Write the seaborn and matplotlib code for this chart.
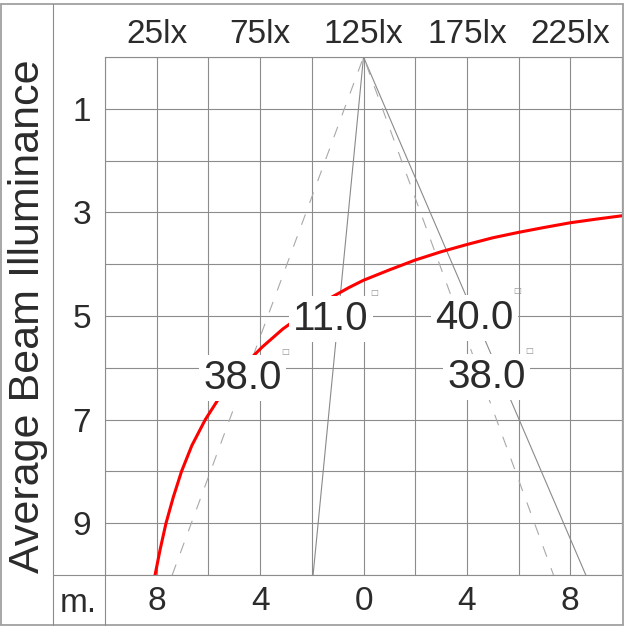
import matplotlib
matplotlib.use("Agg")
import matplotlib.pyplot as plt
import seaborn as sns
from matplotlib.lines import Line2D
from matplotlib.ticker import MultipleLocator

# illuminance curve: lux (top scale) against distance (m)
curve_lux = [24.2, 26.7, 29.5, 33.0, 37.0, 42.0, 48.5, 56.5, 66.0, 76.0,
             86.0, 100.0, 118.0, 125.0, 137.5, 150.0, 162.5, 175.0, 187.5,
             200.0, 212.5, 225.0, 237.5, 250.0]
curve_dist = [10.0, 9.5, 9.0, 8.5, 8.0, 7.5, 7.0, 6.5, 6.0, 5.6,
              5.25, 4.85, 4.45, 4.31, 4.11, 3.92, 3.76, 3.62, 3.49,
              3.385, 3.29, 3.20, 3.13, 3.065]

# beam edges (m across, m down)
solid_x = [-1.95, 0, 8.6]
solid_y = [10, 0, 10]
dashed_x = [-7.4, 0, 7.35]
dashed_y = [10, 0, 10]

# beam angle labels
angle_labels = ["38.0", "11.0", "40.0", "38.0"]
label_x = [-4.68, -1.25, 4.29, 4.76]
label_y = [6.2, 5.06, 5.04, 6.18]

lux_ticks = [25, 75, 125, 175, 225]
m_ticks = [-8, -4, 0, 4, 8]
m_labels = ["8", "4", "0", "4", "8"]
d_ticks = [1, 3, 5, 7, 9]

GRID = "#8c8c8c"
FRAME = "#a0a0a0"
TEXT = "#2b2b2b"

sns.set_theme(style="white")
plt.rcParams['font.family'] = ['Liberation Sans', 'DejaVu Sans']

W, H = 625, 628
fig = plt.figure(figsize=(W / 100, H / 100), dpi=100)
ax = fig.add_axes([105 / W, 1 - 575 / H, 517 / W, 518 / H])

# beam edges
sns.lineplot(x=solid_x, y=solid_y, ax=ax, sort=False, estimator=None,
             color="#8a8a8a", lw=0.8)
sns.lineplot(x=dashed_x, y=dashed_y, ax=ax, sort=False, estimator=None,
             color="#a8a8a8", lw=0.8, linestyle=(0, (10, 11)))

ax.set_xlim(-10, 10)
ax.set_xticks(m_ticks, labels=m_labels)
ax.set_yticks(d_ticks)
ax.xaxis.set_minor_locator(MultipleLocator(2))
ax.yaxis.set_minor_locator(MultipleLocator(1))
ax.grid(which="both", color=GRID, lw=0.8)
ax.set_axisbelow(True)
ax.tick_params(which="both", length=0)
ax.tick_params(axis="x", labelsize=24, pad=8, labelcolor=TEXT)
ax.tick_params(axis="y", labelsize=24, pad=10, labelcolor=TEXT)
for s in ax.spines.values():
    s.set_color(GRID)
    s.set_linewidth(0.8)
ax.set_ylabel("Average Beam Illuminance", fontsize=31, color=TEXT, va="center")
ax.yaxis.set_label_coords(-0.148, 0.5)
ax.text(-0.0513, -0.0714, "m.", transform=ax.transAxes, ha="center",
        va="baseline", fontsize=24, color=TEXT)

# lux scale on top, red curve drawn on it
ax2 = ax.twiny()
sns.lineplot(x=curve_lux, y=curve_dist, ax=ax2, sort=False, estimator=None,
             color="#ff0000", lw=2.2)
ax2.set_xlim(0, 250)
ax2.set_xticks(lux_ticks, labels=[f"{v}lx" for v in lux_ticks])
ax2.tick_params(axis="x", length=0, labelsize=24, pad=5, labelcolor=TEXT)
ax2.grid(False)
for s in ax2.spines.values():
    s.set_visible(False)
ax.set_ylim(10, 0)

for txt, lx, ly in zip(angle_labels, label_x, label_y):
    ax2.text(lx, ly, txt, transform=ax.transData, ha="center", va="center",
             fontsize=29, color=TEXT, zorder=5,
             bbox=dict(boxstyle="square,pad=0.1", fc="white", ec="none"))
    ax2.annotate("\u25a1", xy=(lx, ly), xycoords=ax.transData,
                 xytext=(31, 19.5), textcoords="offset points",
                 ha="center", va="center", fontsize=6, color="#909090",
                 family="DejaVu Sans", zorder=6)

# outer frame and header/footer separators (pixel positions)
def fline(x0, y0, x1, y1, **kw):
    fig.add_artist(Line2D([x0 / W, x1 / W], [1 - y0 / H, 1 - y1 / H],
                          transform=fig.transFigure, **kw))

frame_kw = dict(color=FRAME, lw=1.3)
fline(1.5, 3.5, 622.5, 3.5, **frame_kw)
fline(1.5, 625, 622.5, 625, **frame_kw)
fline(1.5, 3.5, 1.5, 625, **frame_kw)
fline(622.5, 3.5, 622.5, 625, **frame_kw)
fline(53, 3.5, 53, 625, color=GRID, lw=0.8)
fline(53, 575, 105, 575, color=GRID, lw=0.8)
fline(105, 575, 105, 625, color=GRID, lw=0.8)

fig.savefig("out.png", dpi=100)
